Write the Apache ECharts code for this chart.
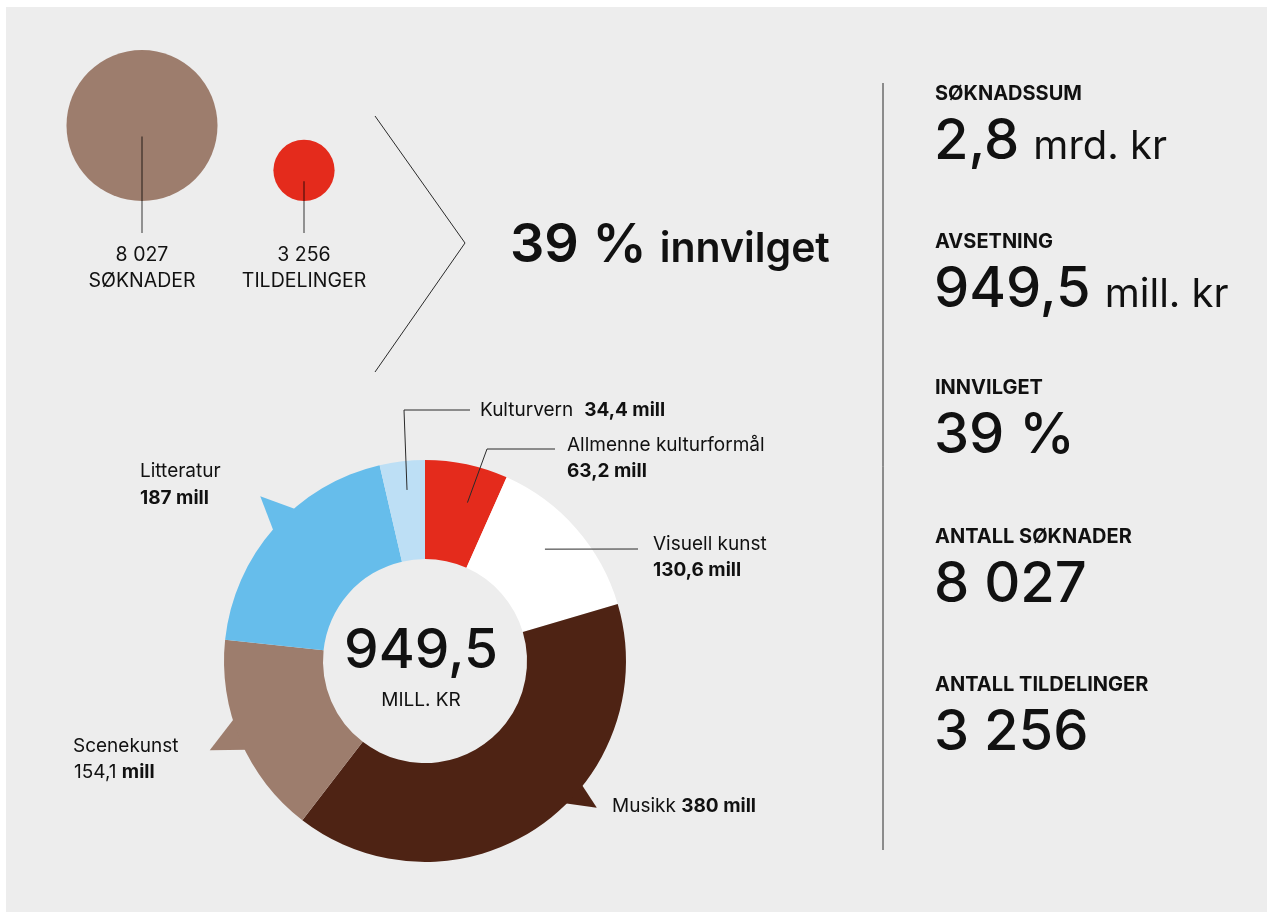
<!DOCTYPE html>
<html lang="no">
<head>
<meta charset="UTF-8">
<title>Søknader og tildelinger</title>
<script src="https://cdn.jsdelivr.net/npm/echarts@6/dist/echarts.min.js"></script>
<style>
    html, body { margin: 0; padding: 0; background: #fff; }
    #panel { position: absolute; left: 6px; top: 7px; width: 1261px; height: 905px; background: #ededed; }
    #main { position: absolute; left: 0; top: 0; width: 1267px; height: 913px; }
</style>
</head>
<body>
<div id="panel"></div>
<div id="main"></div>
<script>
var FONT = 'Inter, "Liberation Sans", sans-serif';

// fordeling av avsetningen, mill. kr (med klokka fra kl. 12)
var kategorier = ['Allmenne kulturformål', 'Visuell kunst', 'Musikk', 'Scenekunst', 'Litteratur', 'Kulturvern'];
var beloep = [63.2, 130.6, 380, 154.1, 187, 34.4];
var farger = ['#e42b1c', '#ffffff', '#4e2314', '#9d7d6d', '#66bdeb', '#bddff5'];

// søknader mot tildelinger
var antallNavn = ['SØKNADER', 'TILDELINGER'];
var antall = [8027, 3256];
var antallFarger = ['#9d7d6d', '#e42b1c'];

// nøkkeltall til høyre
var nokkelNavn = ['SØKNADSSUM', 'AVSETNING', 'INNVILGET', 'ANTALL SØKNADER', 'ANTALL TILDELINGER'];
var nokkelTall = ['2,8', '949,5', '39 %', '8 027', '3 256'];
var nokkelEnhet = ['mrd. kr', 'mill. kr', '', '', ''];

var totalt = '949,5';
var innvilget = '39 %';

// ---------------------------------------------------------------
var myChart = echarts.init(document.getElementById('main'));

var C = [425, 661], R0 = 102, R1 = 201;

function punkt(r, a) {
    var rad = a * Math.PI / 180;
    return [C[0] + r * Math.sin(rad), C[1] - r * Math.cos(rad)];
}
function mill(v) { return String(v).replace('.', ',') + ' mill'; }
function tusen(n) { return String(n).replace(/\B(?=(\d{3})+(?!\d))/g, ' '); }

var ctx = document.createElement('canvas').getContext('2d');
function bredde(str, size, weight) {
    ctx.font = weight + ' ' + size + 'px ' + FONT;
    return ctx.measureText(str).width;
}
// tekst plassert etter grunnlinje
function tekst(x, y, str, size, weight, align) {
    return {
        type: 'text', x: x, y: y - 0.3 * size, z: 10, silent: true,
        style: {
            text: str, fill: '#111', font: weight + ' ' + size + 'px ' + FONT,
            align: align || 'left', verticalAlign: 'middle'
        }
    };
}
function linje(pts) {
    return { type: 'polyline', z: 10, silent: true, shape: { points: pts },
        style: { stroke: '#2a2a2a', lineWidth: 1, fill: null } };
}

var graphics = [];

// piler ut fra ringen: [indeks, basevinkel 1, basevinkel 2, tuppvinkel, tuppradius]
var piler = [[4, 310.4, 319.8, 315, 233], [3, 243.4, 253.5, 247.5, 233], [2, 128.1, 135.8, 130.5, 226]];
piler.forEach(function (p) {
    graphics.push({
        type: 'polygon', z: 1, silent: true,
        shape: { points: [punkt(R1 - 3, p[1]), punkt(p[4], p[3]), punkt(R1 - 3, p[2])] },
        style: { fill: farger[p[0]] }
    });
});

// ledelinjer
graphics.push(linje([punkt(172, 354), [404, 410], [470, 410]]));
graphics.push(linje([punkt(164, 15), [487, 449], [555, 449]]));
graphics.push(linje([punkt(164, 47), [638, 549]]));

// etiketter rundt ringen
var L = 19;
graphics.push(tekst(480, 416, kategorier[5], L, 400));
graphics.push(tekst(480 + bredde(kategorier[5], L, 400) + 11, 416, mill(beloep[5]), L, 700));
graphics.push(tekst(567, 451, kategorier[0], L, 400));
graphics.push(tekst(567, 477, mill(beloep[0]), L, 700));
graphics.push(tekst(653, 550, kategorier[1], L, 400));
graphics.push(tekst(653, 576, mill(beloep[1]), L, 700));
graphics.push(tekst(140, 477, kategorier[4], L, 400));
graphics.push(tekst(140, 504, mill(beloep[4]), L, 700));
graphics.push(tekst(73, 752, kategorier[3], L, 400));
var sk = String(beloep[3]).replace('.', ',');
graphics.push(tekst(74, 778, sk, L, 400));
graphics.push(tekst(74 + bredde(sk + ' ', L, 400), 778, 'mill', L, 700));
graphics.push(tekst(612, 812, kategorier[2], L, 400));
graphics.push(tekst(612 + bredde(kategorier[2] + ' ', L, 400), 812, mill(beloep[2]), L, 700));

// midt i ringen
graphics.push(tekst(421, 668, totalt, 55, 500, 'center'));
graphics.push(tekst(421, 706, 'MILL. KR', 19, 400, 'center'));

// pil og andel innvilget
graphics.push(linje([[375, 116], [465, 243], [375, 372]]));
graphics.push(tekst(510, 262, innvilget, 54, 600));
graphics.push(tekst(510 + bredde(innvilget, 54, 600) + 13, 262, 'innvilget', 41, 600));

// skillelinje og nøkkeltall
graphics.push(linje([[883, 83], [883, 850]]));
var overBase = [100, 248, 394, 543, 691];
nokkelNavn.forEach(function (navn, i) {
    var yb = overBase[i];
    graphics.push(tekst(935, yb, navn, 20, 700));
    graphics.push(tekst(934, yb + 59, nokkelTall[i], 56, 500));
    if (nokkelEnhet[i]) {
        graphics.push(tekst(934 + bredde(nokkelTall[i], 56, 500) + 14, yb + 59, nokkelEnhet[i], 40, 400));
    }
});

var option = {
    backgroundColor: 'transparent',
    animation: false,
    grid: { left: 61, width: 324, top: 100, height: 101 },
    xAxis: { type: 'category', data: antallNavn, show: false, boundaryGap: true },
    yAxis: { type: 'value', min: 0, max: 1, show: false },
    graphic: { elements: graphics },
    series: [
        {
            type: 'pie',
            center: C,
            radius: [R0, R1],
            startAngle: 90,
            clockwise: true,
            silent: true,
            z: 2,
            label: { show: false },
            labelLine: { show: false },
            emphasis: { disabled: true },
            itemStyle: { borderWidth: 0 },
            data: kategorier.map(function (n, i) {
                return { name: n, value: beloep[i], itemStyle: { color: farger[i] } };
            })
        },
        {
            type: 'custom',
            silent: true,
            data: antall.map(function (n, i) { return [i, 0, n]; }),
            renderItem: function (params, api) {
                var i = api.value(0), n = api.value(2);
                var p = api.coord([i, 0]);
                var d = n / antall[0] * 151;
                var f = 'px ' + FONT;
                var fs = 19.5;
                return {
                    type: 'group',
                    children: [
                        { type: 'circle', shape: { cx: p[0], cy: p[1] - d / 2, r: d / 2 }, style: { fill: antallFarger[i] } },
                        { type: 'line', shape: { x1: p[0], y1: p[1] - d / 2 + 11, x2: p[0], y2: p[1] + 32 },
                          style: { stroke: 'rgba(0,0,0,0.6)', lineWidth: 1.3 } },
                        { type: 'text', x: p[0], y: p[1] + 60 - 0.3 * fs,
                          style: { text: tusen(n), font: '400 ' + fs + f, fill: '#111', align: 'center', verticalAlign: 'middle' } },
                        { type: 'text', x: p[0], y: p[1] + 86 - 0.3 * fs,
                          style: { text: antallNavn[i], font: '400 ' + fs + f, fill: '#111', align: 'center', verticalAlign: 'middle' } }
                    ]
                };
            }
        }
    ]
};

myChart.setOption(option);
</script>
</body>
</html>
